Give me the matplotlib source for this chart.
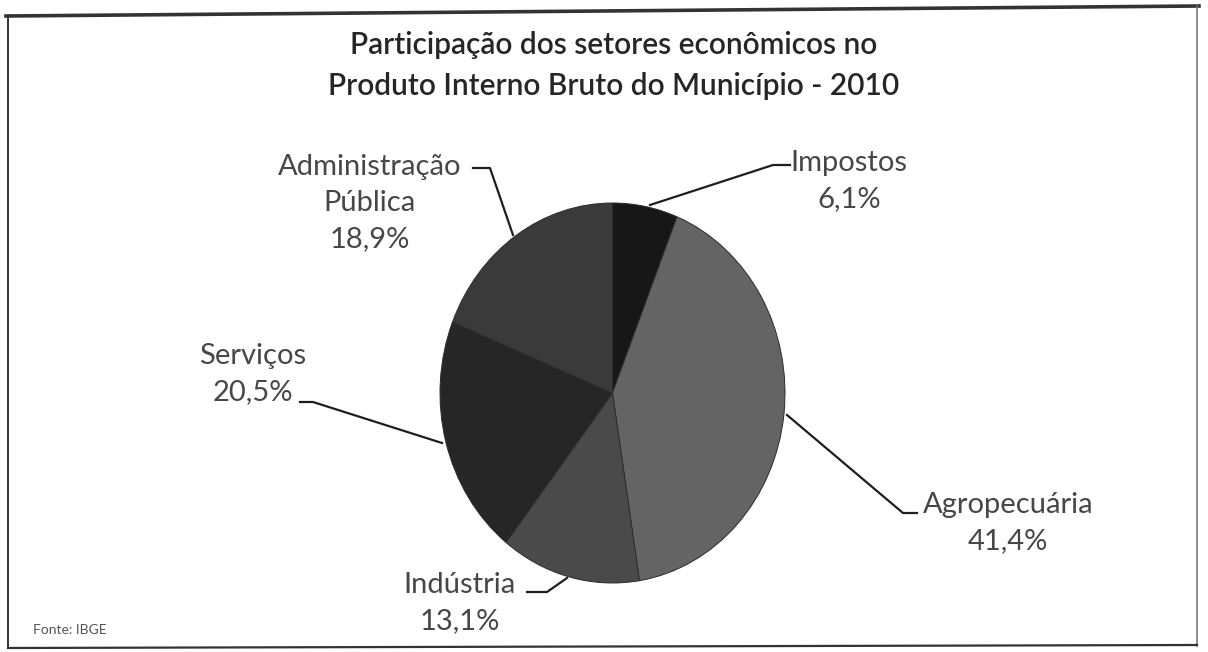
import matplotlib
matplotlib.use("Agg")
import matplotlib.pyplot as plt

plt.rcParams['font.family'] = ['Lato', 'DejaVu Sans']

# data (clockwise from 12 o'clock)
setores = ['Impostos', 'Agropecuária', 'Indústria', 'Serviços', 'Administração\nPública']
valores = [6.1, 41.4, 13.1, 20.5, 18.9]
cores = ['#171717', '#646464', '#4a4a4a', '#262626', '#3a3a3a']

W, H = 1208, 652
fig = plt.figure(figsize=(W / 100, H / 100), dpi=100)
fig.patch.set_facecolor('white')

# pixel-coordinate overlay for frame, text and leader lines
ov = fig.add_axes([0, 0, 1, 1])
ov.set_xlim(0, W); ov.set_ylim(H, 0); ov.axis('off')

# pie axes (scan is slightly stretched vertically -> aspect auto)
px0, px1, py0, py1 = 440, 785, 203, 583
pa = fig.add_axes([px0 / W, 1 - py1 / H, (px1 - px0) / W, (py1 - py0) / H])
pa.pie(valores, colors=cores, startangle=90, counterclock=False,
       wedgeprops=dict(edgecolor='#2c2c2c', linewidth=0.7))
pa.set_aspect('auto')
pa.set_xlim(-1.0, 1.0); pa.set_ylim(-1.0, 1.0)
pa.axis('off')

# frame
k = '#333333'
ov.plot([6, 1199], [16, 6], color=k, lw=2.6)
ov.plot([8, 8], [16, 648], color=k, lw=1.4)
ov.plot([1197, 1197], [6, 646], color='#777777', lw=1.2)
ov.plot([8, 1197], [648, 645], color=k, lw=1.6)

# title
tt = dict(ha='center', va='center', fontsize=21.5, color='#262626', fontweight='semibold')
ov.text(614, 45, 'Participação dos setores econômicos no', **tt)
ov.text(614, 86, 'Produto Interno Bruto do Município - 2010', **tt)

# labels and leader lines
lab = dict(ha='center', va='center', fontsize=21, color='#474747', linespacing=1.5)
lc = dict(color='#1e1e1e', lw=1.6)
pct = [f'{v:.1f}%'.replace('.', ',') for v in valores]

ov.text(849, 181, f'{setores[0]}\n{pct[0]}', **lab)
ov.plot([650, 773, 790], [205, 165, 165], **lc)

ov.text(1008, 523, f'{setores[1]}\n{pct[1]}', **lab)
ov.plot([787, 903, 917], [415, 513, 513], **lc)

ov.text(460, 603, f'{setores[2]}\n{pct[2]}', **lab)
ov.plot([527, 547, 567], [592, 592, 578], **lc)

ov.text(253, 374, f'{setores[3]}\n{pct[3]}', **lab)
ov.plot([300, 313, 442], [402, 402, 443], **lc)

ov.text(370, 203, f'{setores[4]}\n{pct[4]}', **lab)
ov.plot([473, 490, 513], [168, 168, 235], **lc)

ov.text(33, 630, 'Fonte: IBGE', ha='left', va='center', fontsize=10, color='#555555')

fig.savefig('out.png', dpi=100, facecolor='white')
